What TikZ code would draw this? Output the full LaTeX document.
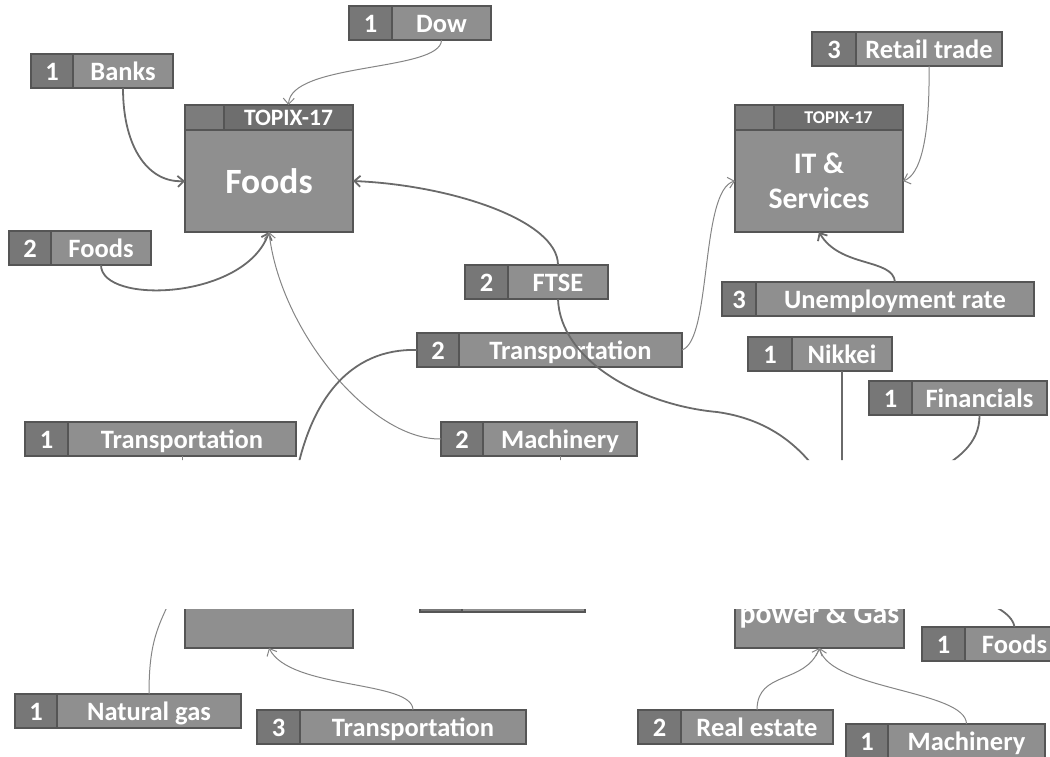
\documentclass[tikz,border=0pt]{standalone}
\usepackage{fontspec}
\setmainfont{Carlito}
\usetikzlibrary{arrows.meta}
\definecolor{labf}{HTML}{8F8F8F}
\definecolor{numf}{HTML}{777777}
\definecolor{bord}{HTML}{555555}
\definecolor{hdrf}{HTML}{6E6E6E}
\definecolor{hdlf}{HTML}{7C7C7C}
\definecolor{linec}{HTML}{6A6A6A}
\definecolor{thinc}{HTML}{858585}
\tikzset{
 cell/.style={draw=bord, line width=2.6pt, inner sep=0pt, outer sep=0pt, text=white, font=\bfseries\fontsize{26.5}{30}\selectfont, minimum height=34pt, text height=19pt, text depth=0pt},
 numc/.style={cell, fill=numf},
 labc/.style={cell, fill=labf},
 hdl/.style={draw=bord, line width=2.6pt, fill=hdlf, inner sep=0pt, outer sep=0pt, minimum height=25pt},
 hdr/.style={hdl, fill=hdrf, text=white},
 body/.style={draw=bord, line width=2.6pt, fill=labf, inner sep=0pt, outer sep=0pt, text=white, align=center},
 tip/.style={-{Straight Barb[length=6pt,width=11pt]}},
 conn/.style={draw=linec, line width=1.8pt},
 thin/.style={draw=thinc, line width=1pt},
}
% name, x, y, number width, total width, number, text
\newcommand\lbx[7]{%
 \node[numc, minimum width=#4pt, anchor=north west] (#1n) at (#2,#3) {#6};
 \node[labc, minimum width={(#5-#4)*1pt}, anchor=north west] (#1) at (#1n.north east) {#7};
}
\begin{document}
\begin{tikzpicture}[x=1pt,y=-1pt]
\useasboundingbox (0,0) rectangle (1050,757);
\begin{scope}
\clip (-5,-5) rectangle (1050,460) (-5,609) rectangle (1050,762);
% main boxes
\node[hdl, minimum width=39pt, anchor=north west] (foodsMh) at (185,105) {};
\node[hdr, minimum width=129pt, anchor=north west, font=\bfseries\fontsize{23.5}{26}\selectfont] (foodsMt) at (foodsMh.north east) {TOPIX-17};
\node[body, minimum width=168pt, minimum height=102pt, anchor=north west, font=\bfseries\fontsize{35.5}{38}\selectfont] (foodsM) at (foodsMh.south west) {Foods};

\node[hdl, minimum width=39pt, anchor=north west] (itMh) at (735,105) {};
\node[hdr, minimum width=129pt, anchor=north west, font=\bfseries\fontsize{18}{21}\selectfont] (itMt) at (itMh.north east) {TOPIX-17};
\node[body, minimum width=168pt, minimum height=102pt, anchor=north west, font=\bfseries\fontsize{29.8}{35}\selectfont] (itM) at (itMh.south west) {IT \&\\Services};

\node[body, minimum width=168pt, minimum height=102pt, anchor=north west] (blM) at (185,546) {};
\node[body, minimum width=169pt, minimum height=64pt, anchor=north west, font=\bfseries\fontsize{29.8}{35}\selectfont] (pgM) at (735,584) {power \& Gas};

% label boxes
\lbx{dow}{349}{6}{43}{142}{1}{Dow}
\lbx{banks}{31}{54}{42}{142}{1}{Banks}
\lbx{foodsb}{9}{231}{42}{142}{2}{Foods}
\lbx{retail}{812}{32}{44}{190}{3}{Retail trade}
\lbx{unemp}{722}{282}{34}{312}{3}{Unemployment rate}
\lbx{ftse}{465}{265}{43}{143}{2}{FTSE}
\lbx{transb}{417}{333}{42}{265}{2}{Transportation}
\lbx{transa}{25}{422}{43}{271}{1}{Transportation}
\lbx{machb}{441}{422}{42}{196}{2}{Machinery}
\lbx{nikkei}{748}{337}{44}{144}{1}{Nikkei}
\lbx{fin}{869}{381}{43}{178}{1}{Financials}
\lbx{bar}{420}{578}{42}{165}{}{}
\lbx{foodsa}{922}{627}{43}{142}{1}{Foods}
\lbx{natgas}{15}{694}{42}{226}{1}{Natural gas}
\lbx{transc}{257}{710}{43}{269}{3}{Transportation}
\lbx{realest}{638}{710}{43}{195}{2}{Real estate}
\lbx{macha}{846}{724}{42}{199}{1}{Machinery}

% free ends inside the hidden band
\coordinate (h1) at (292,500);
\coordinate (h2) at (822,478);
\coordinate (h3) at (842,480);
\coordinate (h4) at (935,472);
\coordinate (h5) at (182,480);
\coordinate (h6) at (560,480);
\coordinate (h7) at (178,585);
\coordinate (h8) at (960,592);
\coordinate (hb) at (717,412);

% connectors
\draw[thin,tip] (dow.south) .. controls (441,72) and (290,62) .. (foodsMt.north);
\draw[conn,tip] (banks.south) .. controls (123,150) and (150,183) .. (foodsM.west);
\draw[conn,tip] (foodsb.south) .. controls (101,305) and (245,300) .. (foodsM.south);
\draw[thin,tip] (machbn.west) .. controls (370,440) and (280,330) .. (foodsM.south);
\draw[conn,tip] (ftse.north) .. controls (558,220) and (450,185) .. (foodsM.east);
\draw[conn] (ftse.south) .. controls (560,360) and (640,405) .. (hb) .. controls (760,418) and (795,438) .. (h2);
\draw[thin,tip] (transb.east) .. controls (712,340) and (700,190) .. (itM.west);
\draw[conn] (transbn.west) .. controls (350,348) and (305,400) .. (h1);
\draw[thin,tip] (retail.south) .. controls (930,140) and (920,175) .. (itM.east);
\draw[conn,tip] (unemp.north) .. controls (893,258) and (840,268) .. (itM.south);
\draw[conn] (nikkei.south) -- (h3);
\draw[conn] (fin.south) .. controls (980,445) and (955,460) .. (h4);
\draw[thin] (transa.south) -- (h5);
\draw[thin] (machb.south) -- (h6);
\draw[thin] (natgas.north) .. controls (149,640) and (158,625) .. (h7);
\draw[thin,tip] (transc.north) .. controls (413,680) and (290,690) .. (blM.south);
\draw[thin,tip] (realest.north) .. controls (757,670) and (805,685) .. (pgM.south);
\draw[thin,tip] (macha.north) .. controls (966,690) and (830,690) .. (pgM.south);
\draw[conn] (foodsa.north) .. controls (1012,612) and (990,603) .. (h8);
\end{scope}
\end{tikzpicture}
\end{document}
